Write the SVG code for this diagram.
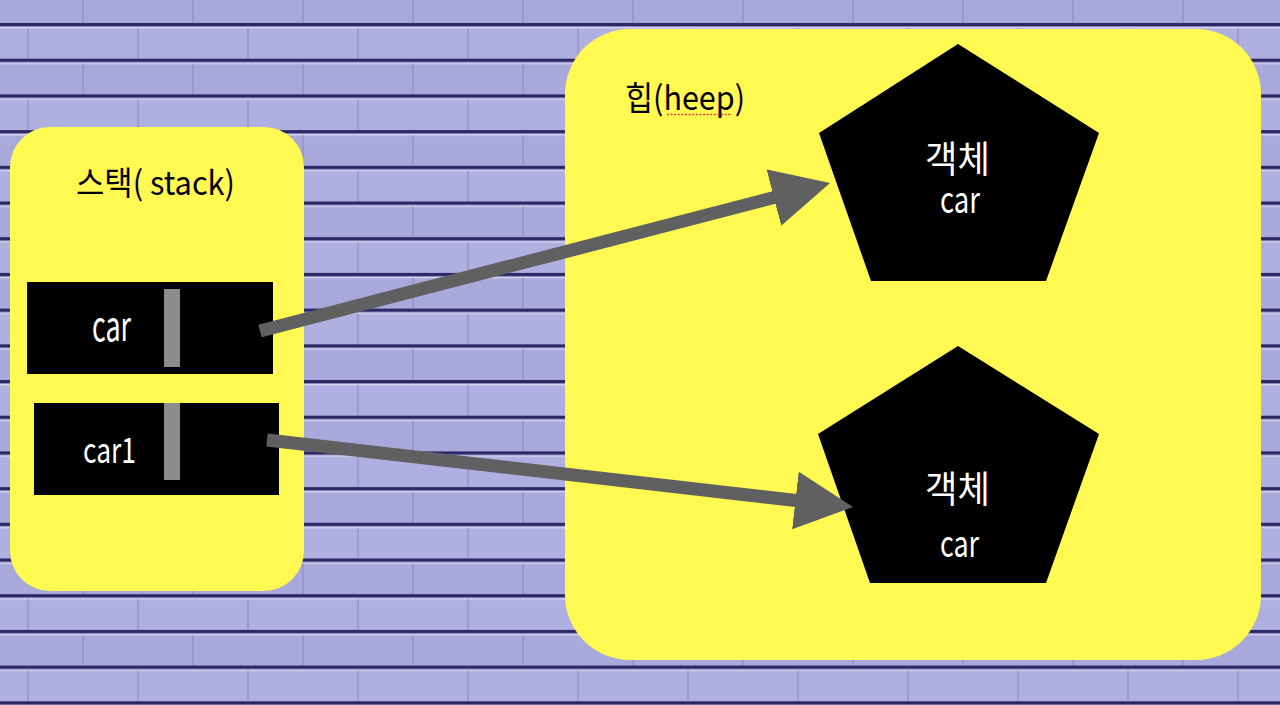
<svg xmlns="http://www.w3.org/2000/svg" width="1280" height="705" viewBox="0 0 1280 705">
<style>
.t{font-family:"Noto Sans CJK KR","Noto Sans",sans-serif;}
.dark{fill:#000000;}
.w{fill:#ffffff;}
.k{fill:#000000;}
.panel{fill:#fff952;}
.bar{fill:#8c8c8c;}
.conn{stroke:#606060;stroke-width:13;fill:none;marker-end:url(#ah);}
</style>
<defs>
<pattern id="brick" patternUnits="userSpaceOnUse" x="0" y="24" width="110" height="71.4">
<rect x="0" y="0" width="110" height="71.4" fill="#aaaadb"/>
<rect x="0" y="4" width="110" height="31" fill="#b0b0e0"/>
<rect x="0" y="39.7" width="110" height="31" fill="#a8a8da"/>
<rect x="0" y="-1" width="110" height="3.6" fill="#2c2766"/>
<rect x="0" y="2.6" width="110" height="1.8" fill="#d2d2f0"/>
<rect x="0" y="34.7" width="110" height="3.6" fill="#2c2766"/>
<rect x="0" y="38.3" width="110" height="1.8" fill="#d2d2f0"/>
<rect x="0" y="70.4" width="110" height="3.6" fill="#2c2766"/>
<rect x="27" y="4" width="2" height="30.5" fill="#8a8ac0" opacity="0.55"/>
<rect x="82" y="39.7" width="2" height="30.5" fill="#8a8ac0" opacity="0.55"/>
</pattern>
<marker id="ah" markerUnits="userSpaceOnUse" viewBox="0 0 58 58" markerWidth="58" markerHeight="58" refX="18" refY="29" orient="auto">
<path d="M0,0 L58,29 L0,58 z" fill="#606060"/>
</marker>
</defs>
<rect id="background" x="0" y="0" width="1280" height="705" fill="url(#brick)"/>
<g id="stack">
<rect class="panel" x="10" y="127" width="294" height="464" rx="40" ry="40"/>
<text class="t k" x="76" y="195" font-size="33" textLength="159" lengthAdjust="spacingAndGlyphs">스택( stack)</text>
</g>
<g id="heap">
<rect class="panel" x="565" y="29" width="696" height="631" rx="65" ry="65"/>
<text class="t k" x="625" y="110" font-size="33" textLength="120" lengthAdjust="spacingAndGlyphs">힙(heep)</text>
<line x1="667" y1="114.5" x2="732" y2="114.5" stroke="#e0403a" stroke-width="1.6" stroke-dasharray="2 1.6"/>
</g>
<g id="var-car">
<rect class="dark" x="27" y="282" width="246" height="92"/>
<rect class="bar" x="164" y="289" width="16" height="78"/>
<text class="t w" x="92" y="341" font-size="41" textLength="39" lengthAdjust="spacingAndGlyphs">car</text>
</g>
<g id="var-car1">
<rect class="dark" x="34" y="403" width="245" height="92"/>
<rect class="bar" x="164" y="403" width="16" height="77"/>
<text class="t w" x="83" y="463" font-size="35" textLength="53" lengthAdjust="spacingAndGlyphs">car1</text>
</g>
<g id="object-1">
<polygon class="dark" points="958,44 1099,133 1046,281 871,281 819,133"/>
<text class="t w" font-size="37"><tspan x="925" y="173" textLength="65" lengthAdjust="spacingAndGlyphs">객체</tspan><tspan x="940" y="213" textLength="40" lengthAdjust="spacingAndGlyphs">car</tspan></text>
</g>
<g id="object-2">
<polygon class="dark" points="958,346 1099,434 1046,583 870,583 818,434"/>
<text class="t w" font-size="37"><tspan x="925" y="503" textLength="65" lengthAdjust="spacingAndGlyphs">객체</tspan><tspan x="940" y="557" textLength="39" lengthAdjust="spacingAndGlyphs">car</tspan></text>
</g>
<g id="connectors">
<line class="conn" x1="260" y1="331" x2="791.3" y2="193.05"/>
<line class="conn" x1="267" y1="440" x2="813.3" y2="502.5"/>
</g>
</svg>
